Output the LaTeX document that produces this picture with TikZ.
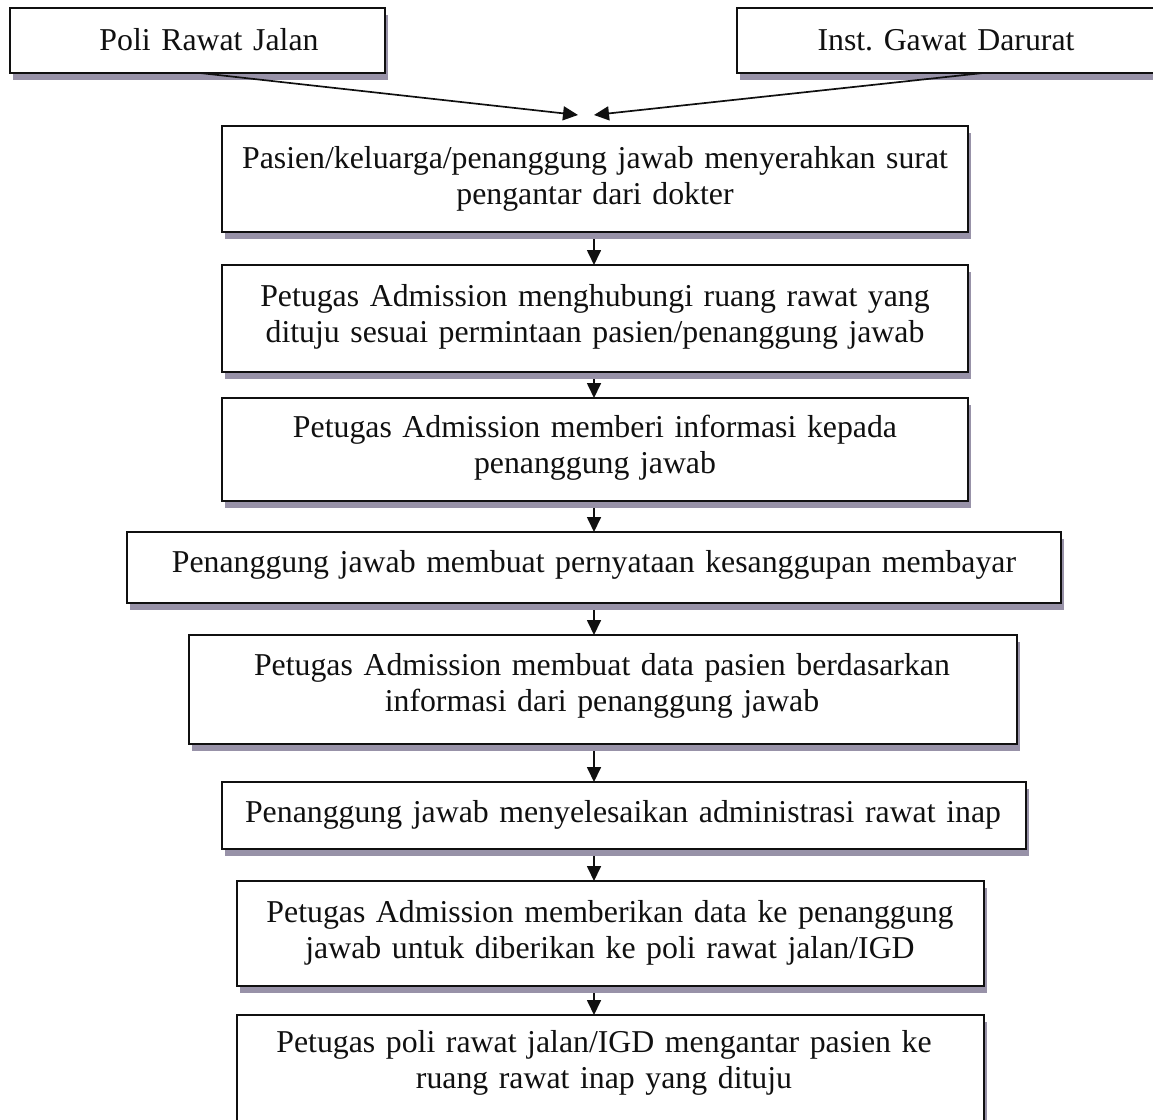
\documentclass[tikz,border=0pt]{standalone}
\usepackage{fontspec}
\setmainfont{Liberation Serif}
\usetikzlibrary{arrows.meta,shadows}
\definecolor{shadowgray}{RGB}{152,146,168}
\definecolor{inkblack}{RGB}{16,16,16}
\frenchspacing

% #1 name, #2 left, #3 top, #4 right, #5 bottom, #6 text centre x, #7 first baseline y, #8 text
\newcommand\flowbox[8]{%
  \node[flowframe, minimum width={#4-#2}, minimum height={#5-#3}, anchor=north west] (#1) at (#2,#3) {};
  \node[flowtext, text width={#4-#2}, anchor=base] (#1-text) at (#6,#7) {#8};
}

\begin{document}
\begin{tikzpicture}[x=1pt,y=-1pt,
  flowframe/.style={draw=inkblack, line width=2.6pt, fill=white, inner sep=0pt, outer sep=0pt,
    drop shadow={shadow xshift=2.5pt, shadow yshift=-7pt, fill=shadowgray, opacity=1}},
  flowtext/.style={inner sep=0pt, align=center, text=inkblack,
    font=\fontsize{31.8}{36.5}\selectfont},
  flowarrow/.style={draw=inkblack, line width=1.7pt, -{Triangle[length=15pt,width=14pt]}}]
\useasboundingbox (0,0) rectangle (1153,1119);
\clip (0,0) rectangle (1153,1119);

\flowbox{poli}{10}{8}{385}{73}{209}{50}{Poli Rawat Jalan}
\flowbox{igd}{737}{8}{1158}{73}{946}{50}{Inst. Gawat Darurat}

\flowbox{b3}{222}{126}{968}{232}{595}{168}{Pasien/keluarga/penanggung jawab menyerahkan surat\\pengantar dari dokter}
\flowbox{b4}{222}{265}{968}{372}{595}{306}{Petugas Admission menghubungi ruang rawat yang\\dituju sesuai permintaan pasien/penanggung jawab}
\flowbox{b5}{222}{398}{968}{501}{595}{437}{Petugas Admission memberi informasi kepada\\penanggung jawab}
\flowbox{b6}{127}{532}{1061}{603}{594}{572}{Penanggung jawab membuat pernyataan kesanggupan membayar}
\flowbox{b7}{189}{635}{1017}{744}{602}{675}{Petugas Admission membuat data pasien berdasarkan\\informasi dari penanggung jawab}
\flowbox{b8}{222}{782}{1026}{849}{623}{822}{Penanggung jawab menyelesaikan administrasi rawat inap}
\flowbox{b9}{237}{881}{984}{986}{610}{922}{Petugas Admission memberikan data ke penanggung\\jawab untuk diberikan ke poli rawat jalan/IGD}
\flowbox{b10}{237}{1015}{984}{1150}{604}{1052}{Petugas poli rawat jalan/IGD mengantar pasien ke\\ruang rawat inap yang dituju}

% the two sources meet just above the first step
\coordinate (joinL) at (578,115);
\coordinate (joinR) at (594,115);
\draw[flowarrow] ([xshift=2.5pt]poli.south) -- (joinL);
\draw[flowarrow] ([xshift=35.5pt]igd.south) -- (joinR);

% vertical chain of steps
\coordinate (axis) at (594,0);
\foreach \a/\b in {b3/b4,b4/b5,b5/b6,b6/b7,b7/b8,b8/b9,b9/b10}
  \draw[flowarrow] ([yshift=-7pt]\a.south -| axis) -- (\b.north -| axis);
\end{tikzpicture}
\end{document}
